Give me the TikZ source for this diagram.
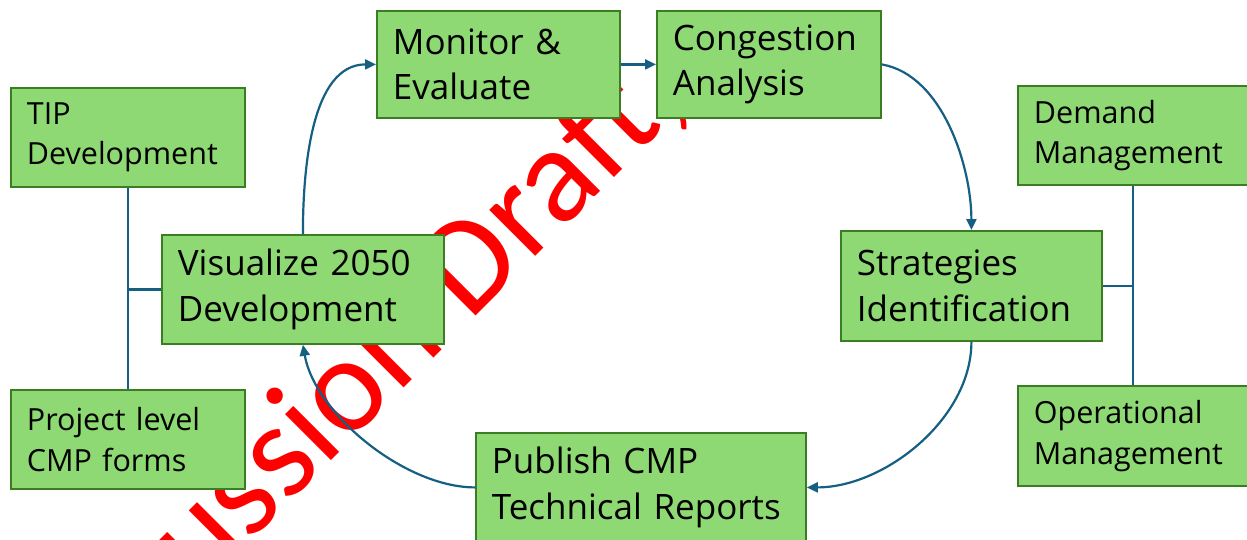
\documentclass[tikz,border=0pt]{standalone}
\usepackage{fontspec}
\setmainfont{Open Sans}
\newfontfamily\wmfont{Carlito}
\usetikzlibrary{arrows.meta}
\definecolor{boxfill}{HTML}{8ED973}
\definecolor{boxline}{HTML}{3A7D22}
\definecolor{conn}{HTML}{156082}
\begin{document}
\begin{tikzpicture}[x=1pt,y=-1pt,
  box/.style={draw=boxline, fill=boxfill, line width=1.8pt, rectangle, anchor=north west, align=left, inner xsep=16pt, inner ysep=0pt},
  big/.style={font=\fontsize{35}{45.5}\selectfont},
  small/.style={font=\fontsize{30.5}{40.5}\selectfont},
  arr/.style={draw=conn, line width=2.2pt, -{Triangle[length=11pt,width=10pt]}},
  ln/.style={draw=conn, line width=2.2pt},
  wm/.style={rotate=45, anchor=base west, text=red, inner sep=0pt, font=\wmfont\fontsize{136}{136}\selectfont}]
\clip (0,0) rectangle (1247,539);
\fill[white] (0,0) rectangle (1247,539);
% watermark
\node[wm] (wmark) at (470,322) {\llap{Discussion\ }Draft,};
% boxes
\node[box,big,minimum width=243pt,minimum height=107pt,text width=211pt] (mon) at (376,10) {Monitor \&\\Evaluate};
\node[box,big,minimum width=224pt,minimum height=107pt,text width=192pt] (cong) at (656,10) {Congestion\\Analysis};
\node[box,small,minimum width=234pt,minimum height=99pt,text width=202pt] (tip) at (10,87) {TIP\\Development};
\node[box,big,minimum width=282pt,minimum height=109pt,text width=250pt] (vis) at (161,234) {Visualize 2050\\Development};
\node[box,small,minimum width=234pt,minimum height=99pt,text width=202pt] (proj) at (10,389) {Project level\\CMP forms};
\node[box,big,minimum width=330pt,minimum height=109pt,text width=298pt] (pub) at (475,432) {Publish CMP\\Technical Reports};
\node[box,big,minimum width=261pt,minimum height=110pt,text width=229pt] (strat) at (840,230) {Strategies\\Identification};
\node[box,small,minimum width=240pt,minimum height=99pt,text width=208pt] (dem) at (1017,85) {Demand\\Management};
\node[box,small,minimum width=240pt,minimum height=100pt,text width=208pt] (oper) at (1017,385) {Operational\\Management};
% connectors
\coordinate (rbus) at (1133,0);
\draw[arr] (vis.north) to[out=90,in=180,looseness=0.9] (mon.west);
\draw[arr] (mon.east) -- (cong.west);
\draw[arr] (cong.east) to[out=-10,in=90,looseness=0.85] (strat.north);
\draw[arr] (strat.south) to[out=-90,in=0,looseness=0.9] (pub.east);
\draw[arr] (pub.west) to[out=180,in=-80,looseness=0.8] (vis.south);
\draw[ln] (tip.south) -- (proj.north);
\draw[ln] (vis.west) -- (vis.west -| tip.south);
\draw[ln] (dem.south -| rbus) -- (oper.north -| rbus);
\draw[ln] (strat.east) -- (strat.east -| rbus);
\end{tikzpicture}
\end{document}
